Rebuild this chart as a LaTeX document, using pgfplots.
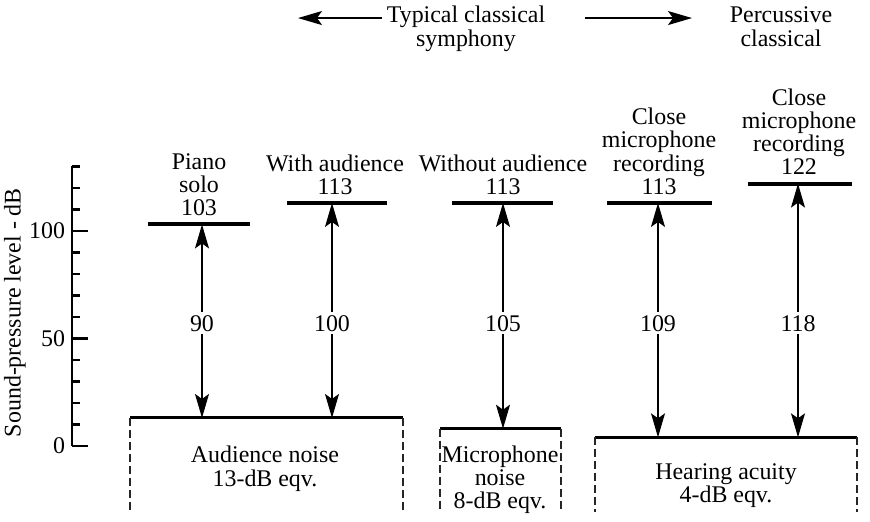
\documentclass[border=0pt]{standalone}
\usepackage{fontspec}
\setmainfont{Liberation Serif}
\usepackage{pgfplots}
\pgfplotsset{compat=1.18}
\usetikzlibrary{arrows.meta}

\newcommand{\lab}{\fontsize{12}{12}\selectfont}

\pgfplotsset{
  level/.style={black, line width=2bp, no marks},
  floor/.style={black, line width=1.5bp, no marks},
  side/.style={black!85, line width=1bp, dash pattern=on 4bp off 2bp, no marks},
  span/.style={black, line width=0.7bp, no marks,
    {Stealth[length=12bp,width=7bp,inset=2.5bp]}-{Stealth[length=12bp,width=7bp,inset=2.5bp]}},
  head/.style={black, line width=0.7bp, no marks,
    -{Stealth[length=12bp,width=7bp,inset=2.5bp]}},
}

\begin{document}
\begin{tikzpicture}
\begin{axis}[
  x=0.5bp, y=1.075bp,
  xmin=72, xmax=870, ymin=0, ymax=130,
  axis x line=none, axis y line=left,
  y axis line style={-, line width=1.2bp},
  ytick={0,50,100}, minor ytick={10,20,...,130},
  tick align=inside, major tick length=8bp, minor tick length=4bp,
  tick style={black, line width=1.2bp},
  yticklabel style={font=\lab},
  /pgf/number format/assume math mode=true,
  clip=false,
]
% signal levels
\addplot[level] coordinates {(148,103) (250,103)};
\addplot[level] coordinates {(287,113) (387,113)};
\addplot[level] coordinates {(452,113) (553,113)};
\addplot[level] coordinates {(607,113) (712,113)};
\addplot[level] coordinates {(748,122) (852,122)};

% noise floors
\addplot[floor] coordinates {(130,13) (403,13)};
\addplot[floor] coordinates {(440,8) (561,8)};
\addplot[floor] coordinates {(595,4) (857,4)};
\addplot[side] coordinates {(130,13) (130,-30.7)};
\addplot[side] coordinates {(403,13) (403,-30.7)};
\addplot[side] coordinates {(440,8) (440,-30.7)};
\addplot[side] coordinates {(561,8) (561,-30.7)};
\addplot[side] coordinates {(595,4) (595,-30.7)};
\addplot[side] coordinates {(857,4) (857,-30.7)};

% dynamic ranges
\addplot[span] coordinates {(202,13) (202,103)};
\addplot[span] coordinates {(332,13) (332,113)};
\addplot[span] coordinates {(503,8) (503,113)};
\addplot[span] coordinates {(658,4) (658,113)};
\addplot[span] coordinates {(798,4) (798,122)};

\node[fill=white, font=\lab, inner sep=1.5bp] at (axis cs:202,57) {90};
\node[fill=white, font=\lab, inner sep=1.5bp] at (axis cs:332,57) {100};
\node[fill=white, font=\lab, inner sep=1.5bp] at (axis cs:503,57) {105};
\node[fill=white, font=\lab, inner sep=1.5bp] at (axis cs:658,57) {109};
\node[fill=white, font=\lab, inner sep=1.5bp] at (axis cs:798,57) {118};

% header arrows
\addplot[head] coordinates {(382,199) (298,199)};
\addplot[head] coordinates {(585,199) (692,199)};

\begin{scope}[every node/.style={anchor=base, font=\lab, inner sep=0pt}]
\node at (axis cs:466,196.7) {Typical classical};
\node at (axis cs:466,185.9) {symphony};
\node at (axis cs:781,196.7) {Percussive};
\node at (axis cs:781,185.9) {classical};

\node at (axis cs:199,128.6) {Piano};
\node at (axis cs:199,117.8) {solo};
\node at (axis cs:199,107) {103};

\node at (axis cs:335,127.8) {With audience};
\node at (axis cs:335,117) {113};

\node at (axis cs:503,127.8) {Without audience};
\node at (axis cs:503,117) {113};

\node at (axis cs:659,149.4) {Close};
\node at (axis cs:659,138.6) {microphone};
\node at (axis cs:659,127.8) {recording};
\node at (axis cs:659,117) {113};

\node at (axis cs:799,158.4) {Close};
\node at (axis cs:799,147.6) {microphone};
\node at (axis cs:799,136.8) {recording};
\node at (axis cs:799,126) {122};

\node at (axis cs:265,-7.9) {Audience noise};
\node at (axis cs:265,-19.1) {13-dB eqv.};
\node at (axis cs:500,-7.9) {Microphone};
\node at (axis cs:500,-18.5) {noise};
\node at (axis cs:500,-29) {8-dB eqv.};
\node at (axis cs:726,-15.8) {Hearing acuity};
\node at (axis cs:726,-26.5) {4-dB eqv.};
\end{scope}

\node[rotate=90, font=\lab] at (axis cs:15,62) {Sound-pressure level - dB};

\coordinate (bl) at (axis cs:0,-35.35);
\coordinate (tr) at (axis cs:870,207.4);
\end{axis}
\pgfresetboundingbox
\useasboundingbox (bl) rectangle (tr);
\end{tikzpicture}
\end{document}
